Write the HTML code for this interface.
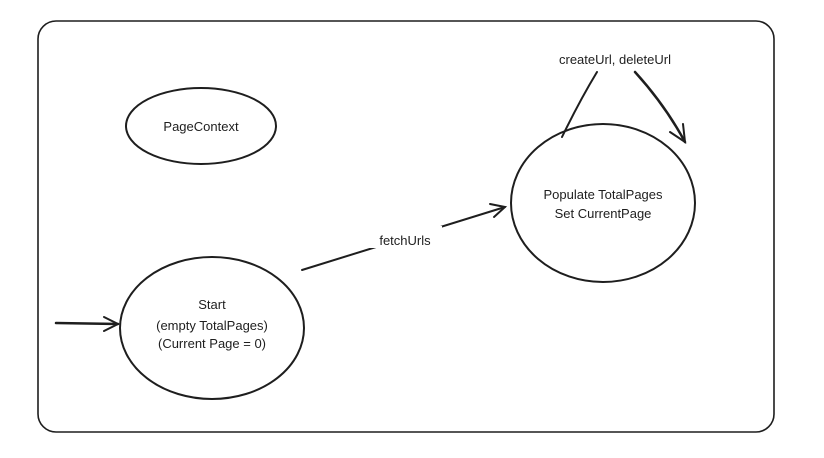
<!DOCTYPE html>
<html><head><style>body{margin:0;background:#fff}</style></head><body>
<svg width="824" height="453" xmlns="http://www.w3.org/2000/svg" font-family="'Comic Sans MS','Liberation Sans',sans-serif" font-size="13" fill="#1e1e1e">
<rect x="38" y="21" width="736" height="411" rx="18" fill="none" stroke="#1e1e1e" stroke-width="1.6"/>
<ellipse cx="201" cy="126" rx="75" ry="38" fill="none" stroke="#1e1e1e" stroke-width="2"/>
<text x="201" y="131" text-anchor="middle">PageContext</text>
<ellipse cx="212" cy="328" rx="92" ry="71" fill="none" stroke="#1e1e1e" stroke-width="2"/>
<text x="212" y="309" text-anchor="middle">Start</text>
<text x="212" y="330" text-anchor="middle">(empty TotalPages)</text>
<text x="212" y="348" text-anchor="middle">(Current Page = 0)</text>
<ellipse cx="603" cy="203" rx="92" ry="79" fill="none" stroke="#1e1e1e" stroke-width="2"/>
<text x="603" y="199" text-anchor="middle">Populate TotalPages</text>
<text x="603" y="218" text-anchor="middle">Set CurrentPage</text>
<g stroke="#1e1e1e" fill="none" stroke-linecap="round">
<path d="M56 323 L118 324" stroke-width="2.5"/>
<path d="M104 317 L118 324 L104 331" stroke-width="2"/>
<path d="M302 270 L505 207" stroke-width="2"/>
<path d="M490 204 L505 207 L494 217" stroke-width="2"/>
<path d="M562 137 Q580 100 597 72" stroke-width="2"/>
<path d="M635 72 Q665 105 685 142" stroke-width="2.5"/>
<path d="M670 132 L685 142 L683 124" stroke-width="2"/>
</g>
<rect x="368" y="226" width="74" height="22" fill="#fff"/>
<text x="405" y="245" text-anchor="middle">fetchUrls</text>
<text x="615" y="64" text-anchor="middle">createUrl, deleteUrl</text>
</svg>
</body></html>
